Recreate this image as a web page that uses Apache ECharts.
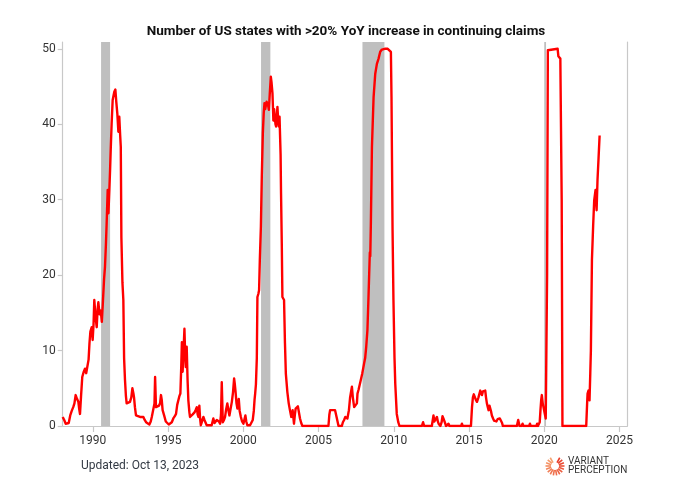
<!DOCTYPE html>
<html>
<head>
<meta charset="utf-8">
<script src="https://cdn.jsdelivr.net/npm/echarts@6/dist/echarts.min.js"></script>
<style>
html,body{margin:0;padding:0;background:#fff;}
#chart{width:680px;height:479px;}
</style>
</head>
<body>
<div id="chart"></div>
<script>
const titleText = 'Number of US states with >20% YoY increase in continuing claims';
const footerText = 'Updated: Oct 13, 2023';
const xTicks = [1990, 1995, 2000, 2005, 2010, 2015, 2020, 2025];
const yTicks = [0, 10, 20, 30, 40, 50];
const recessionStart = [1990.55, 2001.18, 2007.92, 2020.0];
const recessionEnd   = [1991.15, 2001.80, 2009.38, 2020.12];

const years = [
1988.00,1988.10,1988.20,1988.30,1988.40,1988.50,1988.60,1988.70,1988.78,1988.86,1988.95,
1989.04,1989.10,1989.15,1989.22,1989.30,1989.40,1989.48,1989.56,1989.64,1989.72,1989.78,1989.84,1989.93,1989.99,
1990.05,1990.10,1990.18,1990.26,1990.32,1990.37,1990.45,1990.53,1990.60,1990.66,1990.75,1990.81,1990.87,1990.92,1990.99,
1991.04,1991.10,1991.15,1991.19,1991.25,1991.32,1991.38,1991.43,1991.50,1991.56,1991.63,1991.70,1991.76,1991.82,1991.86,1991.90,1991.97,
1992.03,1992.08,1992.14,1992.20,1992.25,1992.35,1992.47,1992.56,1992.63,1992.70,1992.74,1992.80,1992.87,
1993.00,1993.14,1993.25,1993.36,1993.45,1993.54,1993.65,1993.76,1993.85,1993.92,
1994.02,1994.10,1994.14,1994.20,1994.30,1994.40,1994.47,1994.53,1994.58,1994.64,1994.74,1994.85,1994.95,
1995.05,1995.13,1995.25,1995.35,1995.45,1995.53,1995.61,1995.69,1995.76,1995.82,1995.88,1995.92,1995.97,
1996.02,1996.09,1996.13,1996.18,1996.24,1996.30,1996.35,1996.42,1996.46,1996.55,1996.62,1996.68,1996.76,1996.85,1996.91,1996.97,
1997.02,1997.08,1997.13,1997.18,1997.26,1997.35,1997.42,1997.46,1997.57,1997.70,1997.90,
1998.01,1998.09,1998.17,1998.24,1998.30,1998.38,1998.46,1998.52,1998.57,1998.64,1998.72,1998.79,1998.86,1998.94,
1999.02,1999.08,1999.16,1999.24,1999.32,1999.39,1999.44,1999.48,1999.55,1999.61,1999.66,1999.70,1999.76,1999.84,1999.92,
2000.01,2000.08,2000.14,2000.20,2000.27,2000.36,2000.45,2000.55,2000.63,2000.70,2000.75,2000.79,2000.84,2000.90,2000.94,
2001.00,2001.05,2001.10,2001.17,2001.23,2001.30,2001.36,2001.41,2001.46,2001.50,2001.55,2001.60,2001.65,2001.70,2001.76,2001.83,2001.88,2001.94,
2002.00,2002.05,2002.10,2002.14,2002.18,2002.23,2002.27,2002.32,2002.36,2002.41,2002.45,2002.48,2002.51,2002.56,2002.60,2002.66,2002.71,2002.77,2002.83,2002.93,
2003.02,2003.10,2003.19,2003.28,2003.37,2003.43,2003.48,2003.55,2003.63,2003.70,2003.77,2003.85,2003.93,
2004.50,2005.66,2005.72,2005.77,2006.10,2006.20,2006.33,2006.55,2006.62,2006.70,2006.78,2006.84,2006.92,
2007.02,2007.10,2007.16,2007.22,2007.28,2007.37,2007.44,2007.50,2007.55,2007.59,2007.66,2007.72,2007.81,2007.90,
2008.03,2008.10,2008.17,2008.25,2008.32,2008.38,2008.41,2008.44,2008.48,2008.55,2008.66,2008.77,2008.88,2008.99,
2009.05,2009.10,2009.21,2009.40,2009.60,2009.72,2009.81,2009.85,2009.92,2009.98,
2010.05,2010.10,2010.20,2010.30,2010.38,2011.87,2011.95,2012.02,2012.53,2012.64,2012.70,2012.75,2012.81,2012.87,2012.93,2012.98,
2013.10,2013.18,2013.24,2013.30,2013.35,2013.41,2013.47,2013.58,2013.64,2013.70,2014.48,2014.53,2014.58,
2015.13,2015.20,2015.26,2015.32,2015.37,2015.45,2015.53,2015.58,2015.63,2015.70,2015.75,2015.81,2015.86,2015.93,2015.97,
2016.03,2016.08,2016.13,2016.19,2016.25,2016.30,2016.36,2016.41,2016.47,2016.52,2016.60,2016.67,2016.74,2016.82,2016.90,2016.96,
2017.05,2017.14,2017.20,2017.25,2018.18,2018.27,2018.36,2018.50,2018.56,2018.62,
2019.00,2019.05,2019.10,2019.48,2019.53,2019.58,2019.65,2019.70,2019.75,2019.80,2019.84,2019.90,2019.95,
2020.02,2020.10,2020.15,2020.19,2020.24,2020.30,2020.89,2020.94,
2021.02,2021.07,2021.12,2021.16,2021.21,2022.79,2022.85,2022.88,2022.94,
2023.01,2023.06,2023.10,2023.17,2023.25,2023.32,2023.41,2023.48,2023.54,2023.61,2023.68
];

const states = [
1.2,0.8,0.3,0.1,0.4,1.4,2.0,2.5,3.0,4.1,3.6,
3.2,2.2,1.6,4.0,6.5,7.2,7.6,7.0,7.2,8.8,11.0,12.5,13.1,11.4,
13.5,16.7,14.5,13.1,15.5,16.4,14.8,15.3,13.8,16.0,19.5,21.1,24.0,26.8,31.3,
28.2,31.3,34.0,36.6,40.0,43.2,43.8,44.3,44.6,43.0,41.4,39.0,41.0,38.5,37.0,25.0,19.0,
16.7,9.0,6.1,4.0,3.0,3.0,3.2,3.8,5.0,4.3,3.8,2.5,1.4,
1.4,1.2,1.3,1.2,0.8,0.5,0.4,0.2,0.6,1.2,
1.2,3.0,6.5,2.5,2.5,2.7,3.0,4.1,3.5,2.1,1.4,0.6,0.4,
0.2,0.1,0.5,1.0,1.3,1.6,2.8,3.0,4.0,4.3,8.0,11.1,7.2,
9.5,12.9,10.0,7.8,10.5,6.0,3.4,1.8,1.2,1.0,1.5,1.4,1.8,2.2,2.5,1.5,
1.2,2.7,1.0,0.1,0.6,1.2,0.8,1.0,0.1,0.1,0.1,
1.0,0.4,0.3,0.8,1.0,0.6,0.3,1.5,5.8,0.5,0.8,1.2,2.2,3.0,
2.0,1.4,2.3,3.2,4.5,6.3,5.5,4.7,3.0,2.3,3.0,3.6,2.0,1.2,0.6,
0.3,0.9,1.4,0.6,0.1,0.1,0.1,0.3,0.8,2.0,3.5,4.3,5.5,9.0,17.1,
17.5,18.0,22.0,26.4,33.0,38.8,41.5,42.8,42.0,41.9,43.0,42.8,42.5,41.9,44.0,46.3,45.5,44.1,
40.5,42.0,41.9,40.0,39.7,41.0,42.3,40.5,39.7,41.0,40.8,36.0,30.8,24.0,17.1,17.0,16.7,11.0,6.9,4.5,
3.0,2.1,1.2,2.1,0.3,1.5,2.3,2.5,2.6,1.8,1.0,0.4,0.0,
0.0,0.0,1.5,2.1,2.1,1.2,0.0,0.0,0.5,0.8,1.2,1.4,1.0,
2.1,3.8,4.5,5.2,3.8,2.5,2.5,2.3,3.0,4.3,4.8,5.0,6.1,6.9,
8.3,9.0,10.5,12.7,17.0,21.0,23.0,22.5,27.0,37.0,43.6,46.7,48.0,48.7,
48.8,49.6,49.9,50.0,50.0,49.9,49.6,43.6,26.0,16.7,
9.0,5.6,1.6,0.5,0.0,0.0,0.5,0.0,0.0,1.4,0.6,0.8,0.5,1.2,0.6,0.3,
0.0,0.5,1.3,1.0,1.2,0.4,0.0,0.0,0.3,0.0,0.0,0.3,0.0,
0.0,2.5,3.8,4.2,4.1,3.5,3.2,3.5,3.8,4.0,4.7,4.5,4.1,4.6,4.8,
4.7,4.7,3.8,3.0,2.5,2.1,2.7,2.5,1.9,1.4,1.0,0.7,0.5,0.6,0.9,1.0,
1.0,1.0,0.4,0.0,0.0,0.8,0.0,0.0,0.3,0.0,
0.0,0.3,0.0,0.0,0.3,0.0,0.0,0.5,2.1,3.5,4.1,3.0,2.5,
1.8,1.0,1.2,20.0,49.8,50.0,50.0,49.0,
48.9,48.7,48.7,30.0,0.0,0.0,3.0,4.3,4.7,
3.4,7.0,10.0,22.0,26.5,29.9,31.3,28.6,32.6,35.5,38.5
];

const chart = echarts.init(document.getElementById('chart'), null, {renderer: 'canvas'});

const lineData = years.map((y, i) => [y, states[i]]);
const bands = recessionStart.map((s, i) => [{xAxis: s}, {xAxis: recessionEnd[i]}]);

// logo sunburst dashes
const logoParts = [];
const nDash = 16;
for (let i = 0; i < nDash; i++) {
  const ang = (-60 + i * (300 / (nDash - 1))) * Math.PI / 180;
  const r0 = 4, r1 = 9.5;
  const t = i / (nDash - 1);
  const r = Math.round(232 + (246 - 232) * t);
  const g = Math.round(60 + (160 - 60) * t);
  const b = Math.round(40 + (110 - 40) * t);
  logoParts.push({
    type: 'line',
    shape: {x1: r0 * Math.cos(ang), y1: r0 * Math.sin(ang), x2: r1 * Math.cos(ang), y2: r1 * Math.sin(ang)},
    style: {stroke: `rgb(${r},${g},${b})`, lineWidth: 1.6}
  });
}

const option = {
  animation: false,
  backgroundColor: '#ffffff',
  title: {
    text: titleText,
    left: 341,
    top: 20,
    textAlign: 'center',
    textStyle: {fontFamily: 'Roboto', fontWeight: 'bold', fontSize: 13.5, color: '#111111'}
  },
  grid: {left: 62.7, right: 52.7, top: 42, bottom: 53, containLabel: false},
  xAxis: {
    type: 'value',
    min: 1988,
    max: 2025.52,
    splitLine: {show: false},
    axisLine: {show: true, lineStyle: {color: '#c8c8c8', width: 1.2}},
    axisTick: {show: true, length: 6, customValues: xTicks, lineStyle: {color: '#c8c8c8', width: 1.2}},
    axisLabel: {
      customValues: xTicks,
      formatter: v => String(Math.round(v)),
      fontFamily: 'Roboto', fontSize: 12, color: '#333333', margin: 9
    }
  },
  yAxis: [{
    type: 'value',
    min: 0,
    max: 50.9,
    splitLine: {show: false},
    axisLine: {show: true, lineStyle: {color: '#c8c8c8', width: 1.2}},
    axisTick: {show: true, length: 5, customValues: yTicks, lineStyle: {color: '#c8c8c8', width: 1.2}},
    axisLabel: {customValues: yTicks, fontFamily: 'Roboto', fontSize: 12, color: '#333333', margin: 7}
  }, {
    type: 'value',
    position: 'right',
    min: 0,
    max: 50.9,
    splitLine: {show: false},
    axisLine: {show: true, lineStyle: {color: '#c8c8c8', width: 1.2}},
    axisTick: {show: false},
    axisLabel: {show: false}
  }],
  series: [{
    type: 'line',
    name: 'recessions',
    data: [],
    z: 1,
    silent: true,
    markArea: {
      silent: true,
      itemStyle: {color: '#bfbfbf'},
      data: bands
    }
  }, {
    type: 'line',
    name: 'states',
    data: lineData,
    z: 3,
    showSymbol: false,
    symbol: 'none',
    lineStyle: {color: '#ff0000', width: 2.4, join: 'round'},
    itemStyle: {color: '#ff0000'}
  }],
  graphic: [{
    type: 'text',
    left: 81,
    top: 459.5,
    style: {text: footerText, font: '12px Roboto', fill: '#333a44'}
  }, {
    type: 'group',
    x: 555,
    y: 466,
    children: logoParts
  }, {
    type: 'text',
    x: 568,
    y: 456.5,
    style: {text: 'VARIANT', font: '10px Roboto', fill: '#333333'}
  }, {
    type: 'text',
    x: 568,
    y: 465.5,
    style: {text: 'PERCEPTION', font: '10px Roboto', fill: '#333333'}
  }]
};

chart.setOption(option);
</script>
</body>
</html>
